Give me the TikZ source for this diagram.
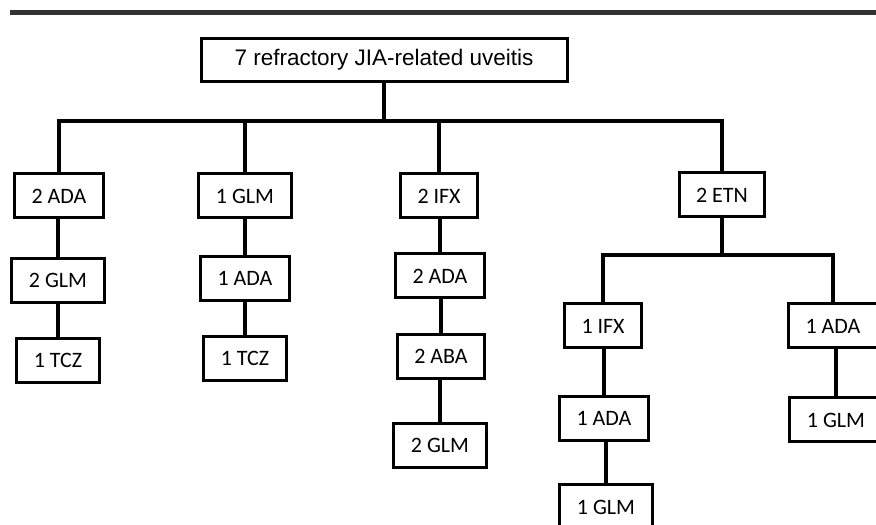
\documentclass[tikz,border=0pt]{standalone}
\usepackage{fontspec}
\newfontfamily\rootfont{Liberation Sans}
\newfontfamily\boxfont{Carlito}
\tikzset{box/.style={draw, line width=3pt, minimum height=44pt, inner xsep=17pt,
		font={\boxfont\fontsize{22pt}{24pt}\selectfont}},
	link/.style={line width=4.5pt}}

\begin{document}
\begin{tikzpicture}[x=1pt, y=1pt]
		\useasboundingbox (0,0) rectangle (876,525);
		\clip (0,0) rectangle (876,525);
		%Top rule
		\draw[line width=5pt, black!80] (10,512.5) -- (876,512.5);
		%Root
		\node[draw, line width=3pt, minimum width=366pt, minimum height=43pt,
		font={\rootfont\fontsize{22.5pt}{24pt}\selectfont}] (root) at (384,465)
		{7 refractory JIA-related uveitis};
		%First line of treatment
		\node[box] (a1) at (59,329) {2 ADA};
		\node[box] (b1) at (245,329) {1 GLM};
		\node[box] (c1) at (439,329) {2 IFX};
		\node[box] (d1) at (722,330) {2 ETN};
		%Switches
		\node[box] (a2) at (58,244.5) {2 GLM};
		\node[box] (a3) at (58,164.5) {1 TCZ};
		\node[box] (b2) at (245,246.5) {1 ADA};
		\node[box] (b3) at (245,166.5) {1 TCZ};
		\node[box] (c2) at (440,249) {2 ADA};
		\node[box] (c3) at (441,168.5) {2 ABA};
		\node[box] (c4) at (440,79.5) {2 GLM};
		\node[box] (e1) at (603,199) {1 IFX};
		\node[box] (e2) at (604,106.5) {1 ADA};
		\node[box] (e3) at (606,18) {1 GLM};
		\node[box] (f1) at (833,199) {1 ADA};
		\node[box] (f2) at (836,105) {1 GLM};
		%Tree lines
		\coordinate (bar) at (root.south |- 0,404);
		\draw[link] (root.south) -- (bar);
		\draw[link] (a1.north) |- (bar) -| (d1.north);
		\draw[link] (b1.north) -- (b1.north |- bar);
		\draw[link] (c1.north) -- (c1.north |- bar);
		\coordinate (sub) at (d1.south |- 0,270);
		\draw[link] (d1.south) -- (sub);
		\draw[link] (e1.north) |- (sub) -| (f1.north);
		\foreach \u/\v in {a1/a2, a2/a3, b1/b2, b2/b3, c1/c2, c2/c3, c3/c4, e1/e2, e2/e3, f1/f2}
		\draw[link] (\v.north) -- (\v.north |- \u.south);
\end{tikzpicture}
\end{document}
